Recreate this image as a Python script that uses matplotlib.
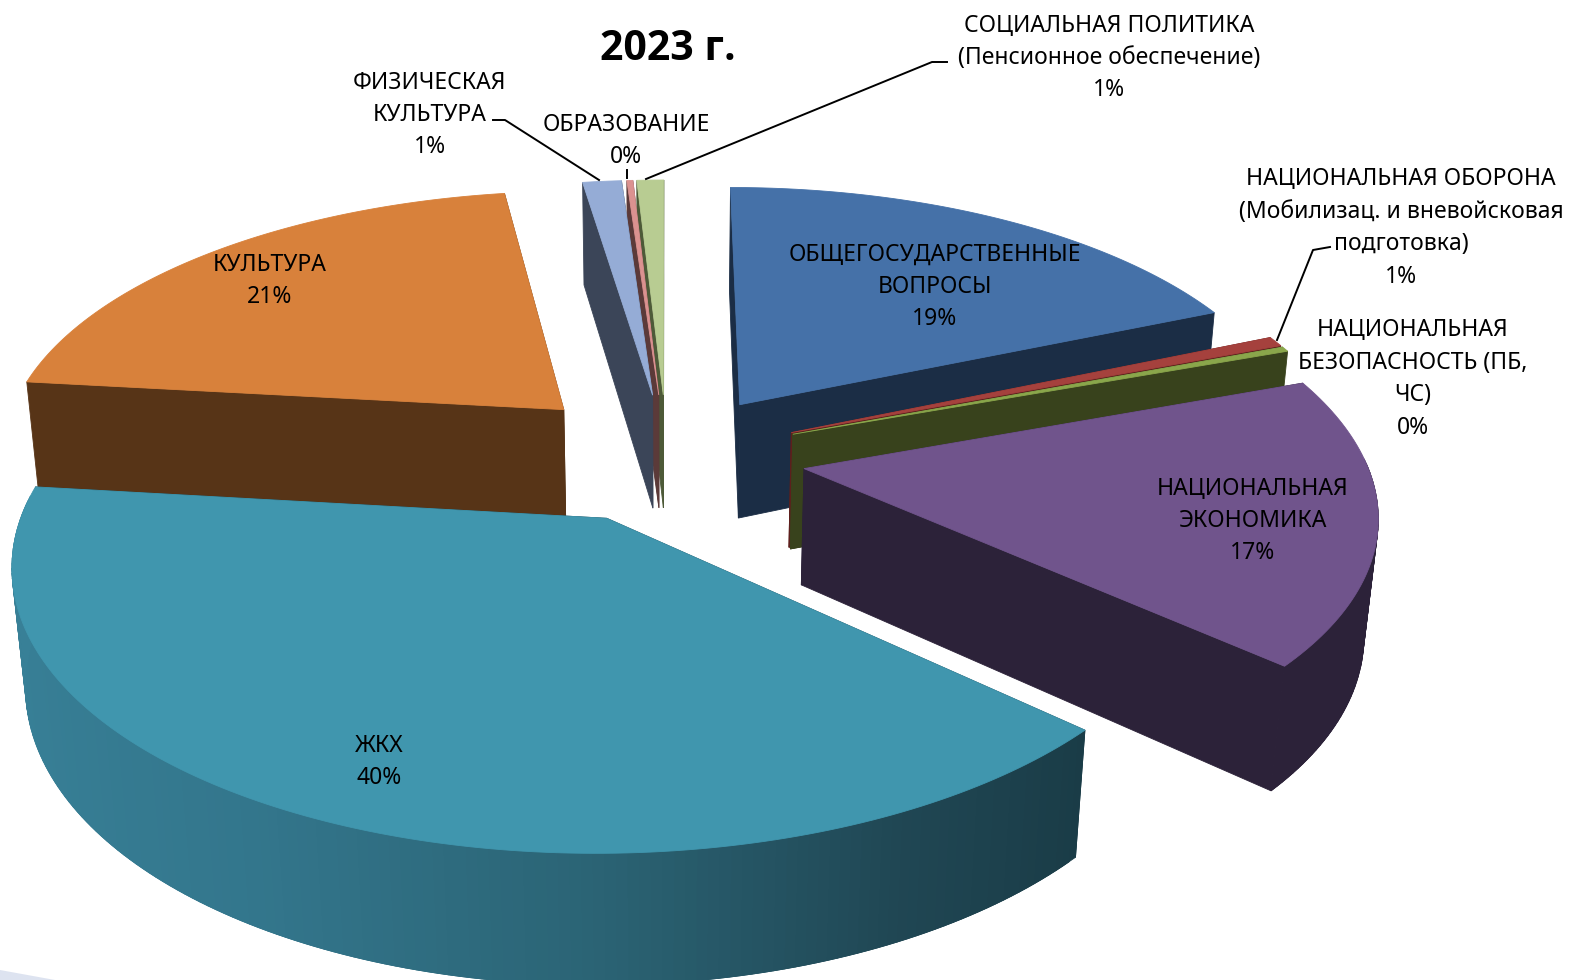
import numpy as np
import matplotlib
matplotlib.use("Agg")
import matplotlib.pyplot as plt
from matplotlib.patches import Polygon

plt.rcParams["font.family"] = ["Noto Sans", "DejaVu Sans"]

LABELS = [
    "ОБЩЕГОСУДАРСТВЕННЫЕ\nВОПРОСЫ",
    "НАЦИОНАЛЬНАЯ ОБОРОНА\n(Мобилизац. и вневойсковая\nподготовка)",
    "НАЦИОНАЛЬНАЯ\nБЕЗОПАСНОСТЬ (ПБ,\nЧС)",
    "НАЦИОНАЛЬНАЯ\nЭКОНОМИКА",
    "ЖКХ",
    "КУЛЬТУРА",
    "ФИЗИЧЕСКАЯ\nКУЛЬТУРА",
    "ОБРАЗОВАНИЕ",
    "СОЦИАЛЬНАЯ ПОЛИТИКА\n(Пенсионное обеспечение)",
]
VALUES = [18.6, 0.6, 0.3, 17.2, 40.1, 20.8, 1.3, 0.2, 0.9]
EXPLODE = [0.24, 0.24, 0.24, 0.245, 0.25, 0.26, 0.24, 0.24, 0.24]
RADIUS = [1, 1, 1, 0.99, 1, 1, 1, 1, 1]
TOP_COLORS = ["#4571A8", "#A5413D", "#8AA64B", "#70548C", "#4096AE",
              "#D8813B", "#95ACD6", "#DB9290", "#B8CC92"]
SIDE_COLORS = ["#1B2D45", "#5E1F1C", "#38421C", "#2C2239", "#1A3C47",
               "#573417", "#3B4558", "#5B3A39", "#4D5A38"]
LABEL_POS = [(935, 287), (1401, 228), (1413, 379), (1253, 521), (379, 762),
             (270, 281), (430, 115), (626, 141), (1109, 58)]
DRAW_ORDER = [8, 7, 6, 0, 1, 2, 3, 5, 4]

# camera for the tilted pie
CX, CY = 667, 456
SCALE_X, SCALE_Y = 566, 264
PERSP = 0.15
DEPTH = 118
DEPTH_W = 0.02

# gradient on the outer wall of the big slice, by sin(angle)
RIM_SIN = [-1.0, -0.5, 0.0, 0.45, 0.75]
RIM_R = [0x38, 0x33, 0x2B, 0x20, 0x1A]
RIM_G = [0x80, 0x76, 0x64, 0x47, 0x3C]
RIM_B = [0x97, 0x8C, 0x75, 0x54, 0x47]


def project(x, y, bottom=False):
    w = 1 + PERSP * y
    h = 0
    if bottom:
        w = w + DEPTH_W
        h = DEPTH
    return CX + SCALE_X * x / w, CY - (SCALE_Y * y - h) / w


def add_poly(ax, xs, ys, color):
    ax.add_patch(Polygon(np.column_stack([xs, ys]), closed=True,
                         facecolor=color, edgecolor=color, linewidth=0.6))


def draw_slice(ax, i, start, end):
    mid = (start + end) / 2
    ox, oy = EXPLODE[i] * np.sin(mid), EXPLODE[i] * np.cos(mid)
    r = RADIUS[i]
    th = np.linspace(start, end, max(int((end - start) * 60), 3))
    rx, ry = ox + r * np.sin(th), oy + r * np.cos(th)

    # walls first, the top hides whatever faces away
    for a in [start, end]:
        ex, ey = ox + r * np.sin(a), oy + r * np.cos(a)
        x0, y0 = project(ox, oy)
        x1, y1 = project(ex, ey)
        x2, y2 = project(ex, ey, True)
        x3, y3 = project(ox, oy, True)
        add_poly(ax, [x0, x1, x2, x3], [y0, y1, y2, y3], SIDE_COLORS[i])

    for k in range(len(th) - 1):
        if np.cos(th[k]) > 0.05:
            continue
        # each quad runs under the next one so no seams show
        nxt = min(k + 2, len(th) - 1)
        xs = np.array([rx[k], rx[nxt]])
        ys = np.array([ry[k], ry[nxt]])
        ux, uy = project(xs, ys)
        bx, by = project(xs, ys, True)
        color = SIDE_COLORS[i]
        if i == 4:
            s = np.sin(th[k])
            color = (np.interp(s, RIM_SIN, RIM_R) / 255,
                     np.interp(s, RIM_SIN, RIM_G) / 255,
                     np.interp(s, RIM_SIN, RIM_B) / 255)
        add_poly(ax, [ux[0], ux[1], bx[1], bx[0]],
                 [uy[0], uy[1], by[1], by[0]], color)

    tx, ty = project(np.r_[ox, rx], np.r_[oy, ry])
    add_poly(ax, tx, ty, TOP_COLORS[i])


def main():
    fig = plt.figure(figsize=(15.71, 9.80), dpi=100)
    ax = fig.add_axes([0, 0, 1, 1])
    ax.set_xlim(0, 1571)
    ax.set_ylim(980, 0)
    ax.axis("off")

    # pale corner left over from the slide behind the chart
    ax.add_patch(Polygon([(0, 970), (55, 980), (0, 980)], facecolor="#DDE3F0",
                         edgecolor="none"))

    edges = np.r_[0, np.cumsum(VALUES)] / sum(VALUES) * 2 * np.pi
    for i in DRAW_ORDER:
        draw_slice(ax, i, edges[i], edges[i + 1])

    # leader lines
    ax.plot([493, 505, 599], [120, 120, 180], color="black", lw=1.4)
    ax.plot([947, 932, 646], [62, 62, 179], color="black", lw=1.4)
    ax.plot([1330, 1313, 1277], [247, 250, 340], color="black", lw=1.4)
    ax.plot([627, 627], [170, 178], color="black", lw=1.4)

    total = sum(VALUES)
    for name, val, (x, y) in zip(LABELS, VALUES, LABEL_POS):
        ax.text(x, y, f"{name}\n{round(val / total * 100)}%", ha="center",
                va="center", fontsize=16.5, linespacing=1.47, color="black")

    ax.text(668, 49, "2023 г.", ha="center", va="center", fontsize=29.5,
            fontweight="bold", family=["Open Sans", "Liberation Sans"],
            color="black")

    fig.savefig("out.png", dpi=100)
    plt.close(fig)


if __name__ == "__main__":
    main()
